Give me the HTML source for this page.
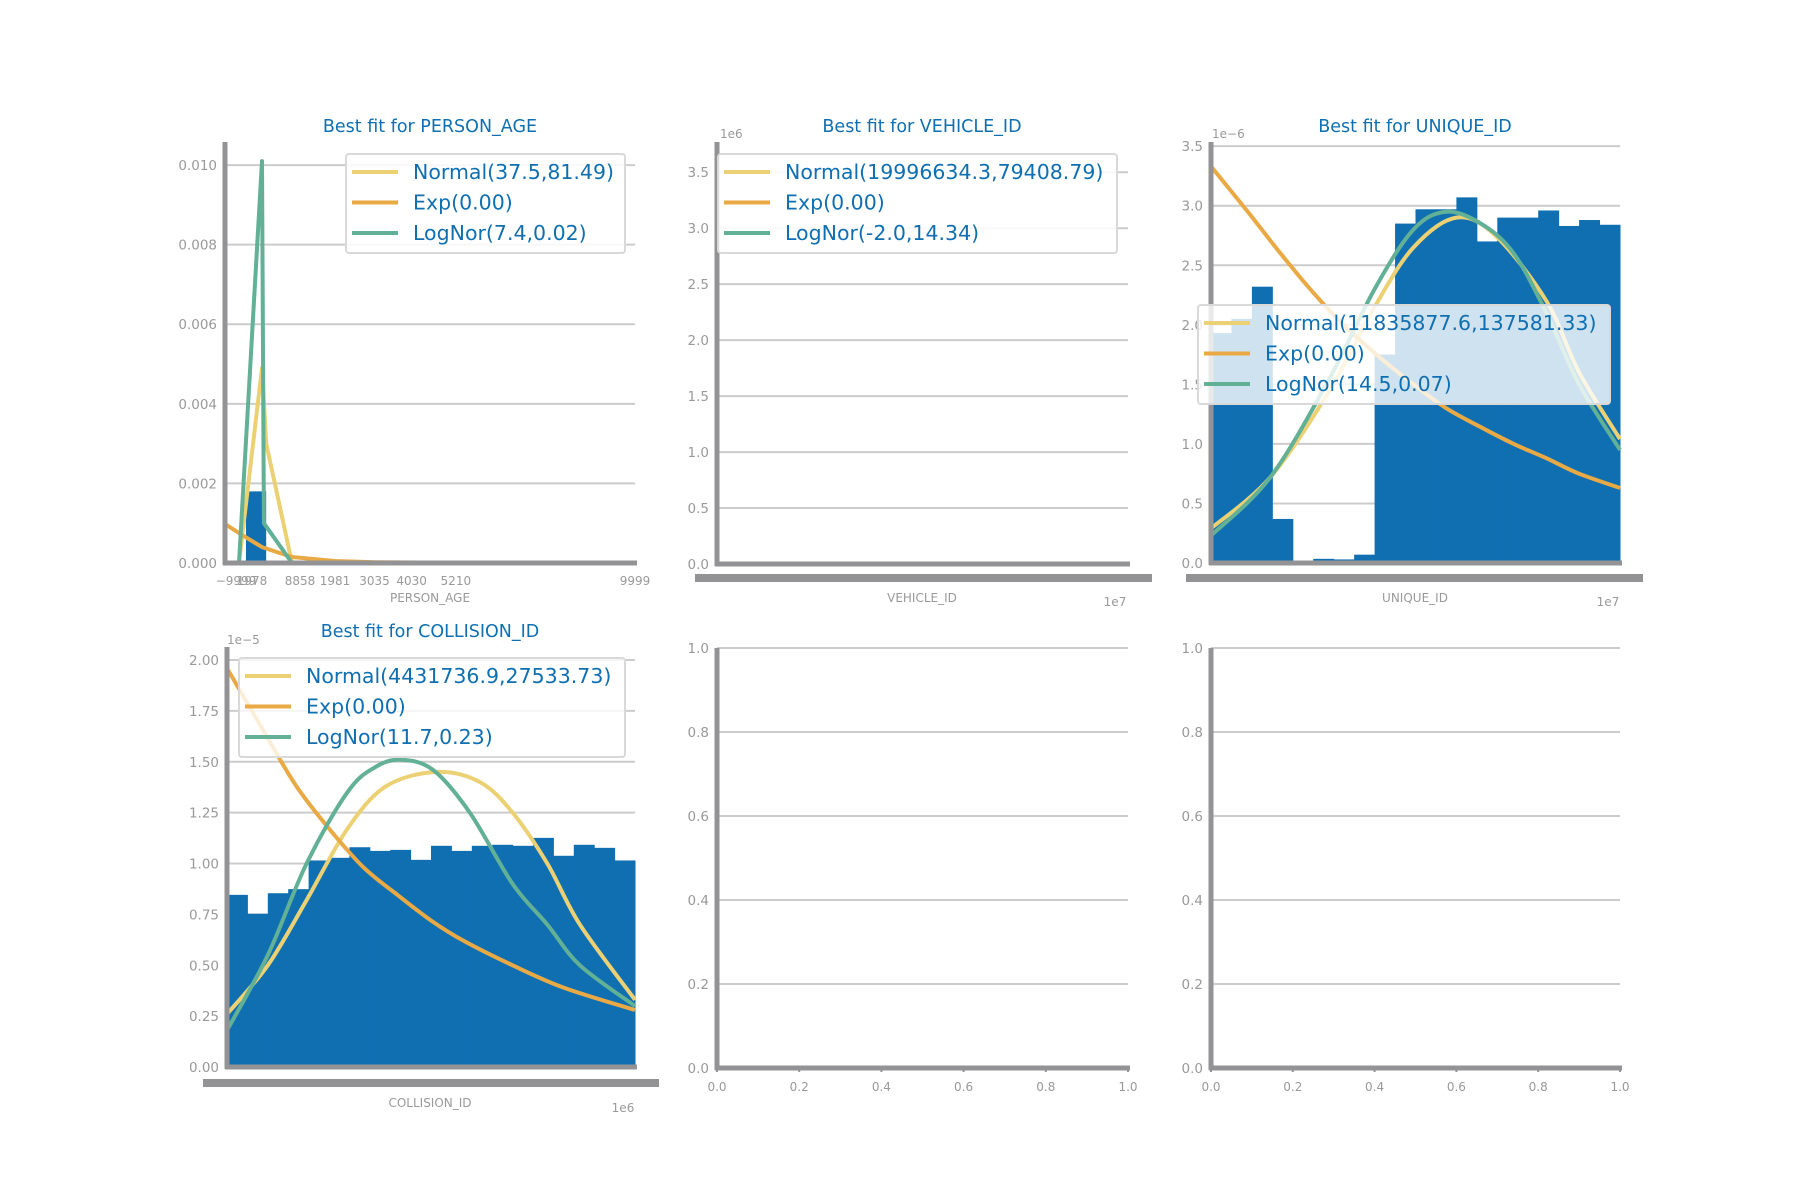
<!DOCTYPE html>
<html><head><meta charset="utf-8">
<style>
html,body{margin:0;padding:0;background:#fff;}
svg{display:block;font-family:"DejaVu Sans","Liberation Sans",sans-serif;}
</style></head>
<body>
<svg id="fig" width="1800" height="1200" viewBox="0 0 1800 1200" xmlns="http://www.w3.org/2000/svg"></svg>
<script>
// ---------- data ----------
// PERSON_AGE
const ageBinEdges = [-400, 140];
const ageBinValues = [0.0018];
const ageNormalX = [-585, 30, 140, 830, 9999];
const ageNormalY = [0, 0.0049, 0.003, 0, 0];
const ageLogX = [-585, 30, 80, 830, 9999];
const ageLogY = [0, 0.0101, 0.001, 0, 0];
const ageExpX = [-960, -500, 30, 830, 1981, 3035, 5210, 9999];
const ageExpY = [0.00098, 0.0007, 0.0004, 0.00015, 0.00005, 0.00002, 0.000005, 0];
const ageTicksY = [0, 0.002, 0.004, 0.006, 0.008, 0.010];
const ageTickLabelsY = ["0.000","0.002","0.004","0.006","0.008","0.010"];
const ageTicksX = [1981, 3035, 4030, 5210, 9999];
const ageTickLabelsX = ["1981","3035","4030","5210","9999"];

// VEHICLE_ID (in 1e6 density units)
const vehTicksY = [0, 0.5, 1.0, 1.5, 2.0, 2.5, 3.0, 3.5];
const vehTickLabelsY = ["0.0","0.5","1.0","1.5","2.0","2.5","3.0","3.5"];
const vehLogX = [0.0, 0.0];
const vehLogY = [0, 3.77];

// UNIQUE_ID (x in bin units, y in 1e-6)
const uniqBins = [1.93, 2.05, 2.32, 0.37, 0.015, 0.035, 0.03, 0.07, 1.75, 2.85, 2.97, 2.97, 3.07, 2.70, 2.90, 2.90, 2.96, 2.83, 2.88, 2.84];
const uniqNormalX = [0, 2.9, 5.8, 8.0, 9.9, 12.0, 13.9, 16.4, 18.0, 20];
const uniqNormalY = [0.29, 0.72, 1.45, 2.15, 2.65, 2.90, 2.75, 2.2, 1.6, 1.04];
const uniqLogX = [0, 2.9, 5.8, 8.0, 9.9, 11.5, 13.2, 14.8, 16.4, 18.0, 20];
const uniqLogY = [0.23, 0.72, 1.55, 2.3, 2.8, 2.95, 2.85, 2.6, 2.1, 1.5, 0.95];
const uniqExpX = [0, 1.8, 3.4, 5.0, 6.6, 8.3, 9.9, 11.5, 13.2, 14.8, 16.4, 18.0, 20];
const uniqExpY = [3.33, 2.95, 2.6, 2.27, 1.98, 1.72, 1.5, 1.3, 1.14, 1.0, 0.88, 0.75, 0.63];
const uniqTicksY = [0, 0.5, 1.0, 1.5, 2.0, 2.5, 3.0, 3.5];
const uniqTickLabelsY = ["0.0","0.5","1.0","1.5","2.0","2.5","3.0","3.5"];

// COLLISION_ID (x in bin units, y in 1e-5)
const colBins = [0.846, 0.753, 0.854, 0.874, 1.015, 1.028, 1.080, 1.062, 1.067, 1.018, 1.087, 1.062, 1.087, 1.092, 1.087, 1.126, 1.038, 1.092, 1.077, 1.015];
const colNormalX = [0, 2.0, 3.9, 5.9, 7.8, 10.3, 12.4, 14.0, 15.7, 17.3, 20];
const colNormalY = [0.26, 0.5, 0.82, 1.17, 1.38, 1.45, 1.40, 1.25, 1.0, 0.7, 0.33];
const colLogX = [0, 2.0, 3.9, 5.9, 7.2, 8.5, 10.1, 11.9, 14.0, 15.7, 17.3, 20];
const colLogY = [0.18, 0.55, 1.0, 1.35, 1.47, 1.51, 1.46, 1.25, 0.9, 0.7, 0.5, 0.3];
const colExpX = [0, 1.8, 3.4, 5.1, 6.7, 8.3, 10.0, 11.6, 14.0, 16.5, 20];
const colExpY = [1.96, 1.65, 1.38, 1.16, 0.98, 0.85, 0.72, 0.62, 0.5, 0.39, 0.28];
const colTicksY = [0, 0.25, 0.5, 0.75, 1.0, 1.25, 1.5, 1.75, 2.0];
const colTickLabelsY = ["0.00","0.25","0.50","0.75","1.00","1.25","1.50","1.75","2.00"];

// Empty axes
const emptyTicks = [0, 0.2, 0.4, 0.6, 0.8, 1.0];
const emptyTickLabels = ["0.0","0.2","0.4","0.6","0.8","1.0"];

// ---------- drawing ----------
const NS = "http://www.w3.org/2000/svg";
const svg = document.getElementById("fig");
const YEL = "#ebd173", ORA = "#e9a944", GRN = "#62b096", BLUE = "#0f6fb1", SP = "#939396", TXT = "#999999";

function mk(tag, attrs, parent) {
  const e = document.createElementNS(NS, tag);
  for (const k in attrs) e.setAttribute(k, attrs[k]);
  (parent || svg).appendChild(e);
  return e;
}
function txt(s, x, y, size, fill, anchor, parent) {
  const t = mk("text", {x: x, y: y, "font-size": size, fill: fill, "text-anchor": anchor || "middle"}, parent);
  t.textContent = s;
  return t;
}

function makeAxes(name, L, R, T, B, xmin, xmax, ymin, ymax) {
  const g = mk("g", {});
  
  
  const sx = v => L + (v - xmin) / (xmax - xmin) * (R - L);
  const sy = v => B - (v - ymin) / (ymax - ymin) * (B - T);
  return {g, sx, sy, L, R, T, B};
}
function grid(ax, ticks, labels) {
  ticks.forEach((v, i) => {
    const y = ax.sy(v);
    const l = mk("line", {x1: ax.L, x2: ax.R, y1: y, y2: y, stroke: "#cccccc", "stroke-width": 2}, ax.g);
    
    
    const t = txt(labels[i], ax.L - 8, y + 5, 13.5, TXT, "end", ax.g);
    
    
  });
}
function spines(ax) {
  const a = mk("line", {x1: ax.L, x2: ax.L, y1: ax.T, y2: ax.B + 2, stroke: SP, "stroke-width": 5}, ax.g);
  
  
  const b = mk("line", {x1: ax.L - 2, x2: ax.R + 2, y1: ax.B, y2: ax.B, stroke: SP, "stroke-width": 5}, ax.g);
  
  
}
function bars(ax, vals, name) {
  vals.forEach((v, i) => {
    const x0 = ax.sx(i), x1 = ax.sx(i + 1), y = ax.sy(v);
    const r = mk("rect", {x: x0, y: y, width: x1 - x0 + 0.5, height: ax.B - y, fill: BLUE}, ax.g);
    
    
  });
}
function curve(ax, xs, ys, color, name, smooth) {
  const P = xs.map((x, i) => [ax.sx(x), ax.sy(ys[i])]);
  let d = "M" + P[0][0].toFixed(1) + " " + P[0][1].toFixed(1);
  for (let i = 0; i < P.length - 1; i++) {
    if (!smooth) { d += " L" + P[i+1][0].toFixed(1) + " " + P[i+1][1].toFixed(1); continue; }
    const p0 = P[Math.max(0, i - 1)], p1 = P[i], p2 = P[i + 1], p3 = P[Math.min(P.length - 1, i + 2)];
    const c1 = [p1[0] + (p2[0] - p0[0]) / 6, p1[1] + (p2[1] - p0[1]) / 6];
    const c2 = [p2[0] - (p3[0] - p1[0]) / 6, p2[1] - (p3[1] - p1[1]) / 6];
    d += " C" + c1[0].toFixed(1) + " " + c1[1].toFixed(1) + " " + c2[0].toFixed(1) + " " + c2[1].toFixed(1) + " " + p2[0].toFixed(1) + " " + p2[1].toFixed(1);
  }
  const p = mk("path", {d: d, fill: "none", stroke: color, "stroke-width": 4, "stroke-linejoin": "round"}, ax.g);
  
  
}
function legend(x, y, w, entries, bg, name) {
  const g = mk("g", {});
  
  
  mk("rect", {x: x, y: y, width: w, height: 99, rx: 3, fill: bg, stroke: "#d9d9d9", "stroke-width": 2}, g);
  entries.forEach((e, i) => {
    const cy = y + 18 + i * 30.5;
    const l = mk("line", {x1: x + 6, x2: x + 52, y1: cy, y2: cy, stroke: e[1], "stroke-width": 4}, g);
    
    
    const t = txt(e[0], x + 67, cy + 7, 20.5, BLUE, "start", g);
    
    
  });
}
function title(s, x, y) {
  const t = txt(s, x, y, 17.5, BLUE);
  
  
}
function small(s, x, y, anchor, name) {
  const t = txt(s, x, y, 12, TXT, anchor || "middle");
  
  
}
function clutter(x, y, w, name) {
  const r = mk("rect", {x: x, y: y, width: w, height: 8, fill: SP});
  
  
}

// --- PERSON_AGE ---
{
  const ax = makeAxes("person-age-chart", 225, 635, 142, 563, -960, 9999, 0, 0.01058);
  grid(ax, ageTicksY, ageTickLabelsY);
  ageBinValues.forEach((v, i) => {
    const x0 = ax.sx(ageBinEdges[i]), x1 = ax.sx(ageBinEdges[i + 1]), y = ax.sy(v);
    const r = mk("rect", {x: x0, y: y, width: x1 - x0, height: ax.B - y, fill: BLUE}, ax.g);
    
    
  });
  curve(ax, ageNormalX, ageNormalY, YEL, "normal-fit-line", false);
  curve(ax, ageExpX, ageExpY, ORA, "exp-fit-line", false);
  curve(ax, ageLogX, ageLogY, GRN, "lognormal-fit-line", false);
  spines(ax);
  ageTicksX.forEach((v, i) => {
    small(ageTickLabelsX[i], ax.sx(v), 585, "middle", "x-tick-label");
  });
  small("−9999", 236, 585, "middle", "x-tick-label");
  small("1978", 252, 585, "middle", "x-tick-label");
  small("8858", 300, 585, "middle", "x-tick-label");
  small("PERSON_AGE", 430, 602, "middle", "x-axis-title");
  title("Best fit for PERSON_AGE", 430, 132);
  legend(346, 154, 279, [["Normal(37.5,81.49)", YEL], ["Exp(0.00)", ORA], ["LogNor(7.4,0.02)", GRN]], "rgba(255,255,255,0.85)", "person-age-legend");
}
// --- VEHICLE_ID ---
{
  const ax = makeAxes("vehicle-id-chart", 717, 1128, 142, 564, 0, 1, 0, 3.77);
  grid(ax, vehTicksY, vehTickLabelsY);
  curve(ax, vehLogX, vehLogY, GRN, "lognormal-fit-line", false);
  spines(ax);
  clutter(695, 574, 457, "x-tick-labels-overlapping");
  small("1e6", 720, 138, "start", "y-offset-label");
  small("1e7", 1115, 606, "middle", "x-offset-label");
  small("VEHICLE_ID", 922, 602, "middle", "x-axis-title");
  title("Best fit for VEHICLE_ID", 922, 132);
  legend(718, 154, 399, [["Normal(19996634.3,79408.79)", YEL], ["Exp(0.00)", ORA], ["LogNor(-2.0,14.34)", GRN]], "rgba(255,255,255,0.85)", "vehicle-id-legend");
}
// --- UNIQUE_ID ---
{
  const ax = makeAxes("unique-id-chart", 1211, 1620, 142, 563, 0, 20, 0, 3.535);
  grid(ax, uniqTicksY, uniqTickLabelsY);
  bars(ax, uniqBins, "unique-id");
  curve(ax, uniqNormalX, uniqNormalY, YEL, "normal-fit-line", true);
  curve(ax, uniqExpX, uniqExpY, ORA, "exp-fit-line", true);
  curve(ax, uniqLogX, uniqLogY, GRN, "lognormal-fit-line", true);
  spines(ax);
  clutter(1186, 574, 457, "x-tick-labels-overlapping");
  small("1e−6", 1212, 138, "start", "y-offset-label");
  small("1e7", 1608, 606, "middle", "x-offset-label");
  small("UNIQUE_ID", 1415, 602, "middle", "x-axis-title");
  title("Best fit for UNIQUE_ID", 1415, 132);
  legend(1198, 305, 412, [["Normal(11835877.6,137581.33)", YEL], ["Exp(0.00)", ORA], ["LogNor(14.5,0.07)", GRN]], "rgba(255,255,255,0.8)", "unique-id-legend");
}
// --- COLLISION_ID ---
{
  const ax = makeAxes("collision-id-chart", 227, 635, 647, 1067, 0, 20, 0, 2.064);
  grid(ax, colTicksY, colTickLabelsY);
  bars(ax, colBins, "collision-id");
  curve(ax, colNormalX, colNormalY, YEL, "normal-fit-line", true);
  curve(ax, colExpX, colExpY, ORA, "exp-fit-line", true);
  curve(ax, colLogX, colLogY, GRN, "lognormal-fit-line", true);
  spines(ax);
  clutter(203, 1079, 456, "x-tick-labels-overlapping");
  small("1e−5", 227, 644, "start", "y-offset-label");
  small("1e6", 623, 1112, "middle", "x-offset-label");
  small("COLLISION_ID", 430, 1107, "middle", "x-axis-title");
  title("Best fit for COLLISION_ID", 430, 637);
  legend(239, 658, 386, [["Normal(4431736.9,27533.73)", YEL], ["Exp(0.00)", ORA], ["LogNor(11.7,0.23)", GRN]], "rgba(255,255,255,0.8)", "collision-id-legend");
}
// --- empty axes ---
[[717, 1128, "empty-chart-middle"], [1211, 1620, "empty-chart-right"]].forEach(c => {
  const ax = makeAxes(c[2], c[0], c[1], 648, 1068, 0, 1, 0, 1);
  grid(ax, emptyTicks, emptyTickLabels);
  spines(ax);
  emptyTicks.forEach((v, i) => {
    const x = ax.sx(v);
    const tk = mk("line", {x1: x, x2: x, y1: ax.B, y2: ax.B + 4, stroke: SP, "stroke-width": 2}, ax.g);
    
    
    const t = txt(emptyTickLabels[i], x, 1091, 12, TXT, "middle", ax.g);
    
    
  });
});
</script>
</body></html>
